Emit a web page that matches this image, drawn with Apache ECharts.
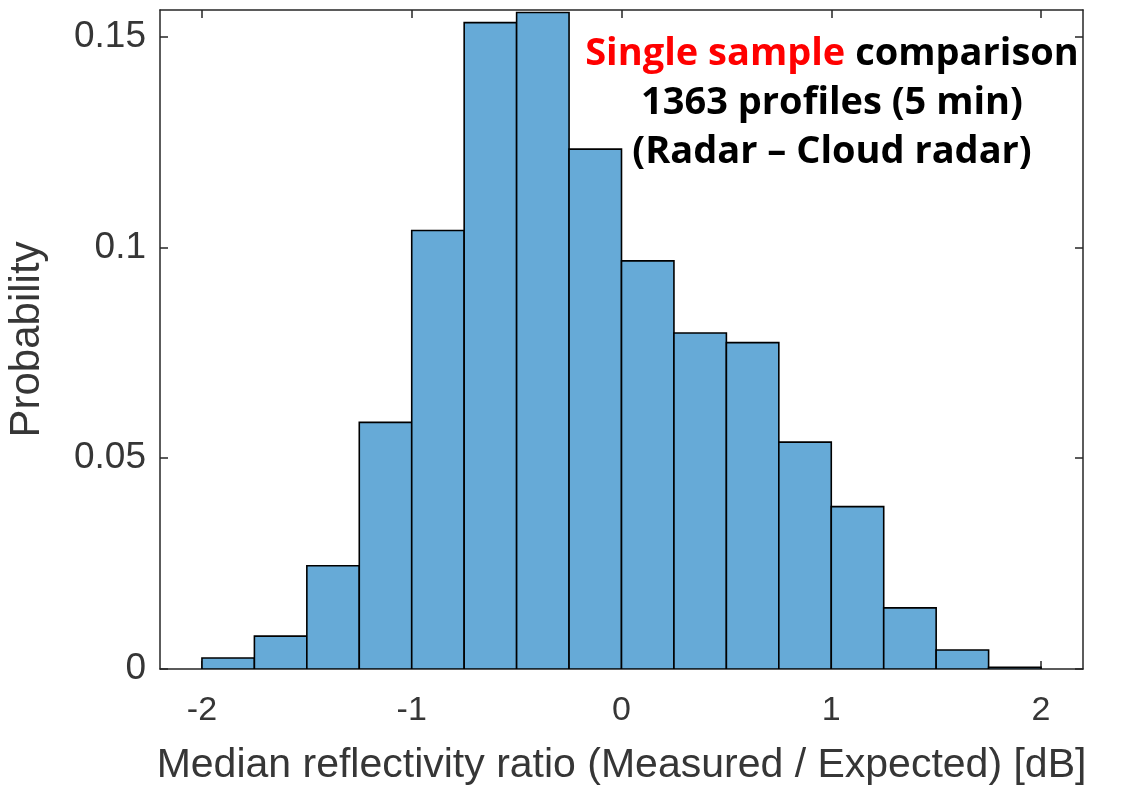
<!DOCTYPE html>
<html>
<head>
<meta charset="utf-8">
<script src="https://cdn.jsdelivr.net/npm/echarts@6/dist/echarts.min.js"></script>
<style>
html,body{margin:0;padding:0;background:#fff;}
#chart{width:1121px;height:785px;}
</style>
</head>
<body>
<div id="chart"></div>
<script>
// Histogram bin edges (dB) and probabilities
const binStarts = [-2, -1.75, -1.5, -1.25, -1, -0.75, -0.5, -0.25, 0, 0.25, 0.5, 0.75, 1, 1.25, 1.5, 1.75];
const binWidth = 0.25;
const probabilities = [0.0026, 0.0078, 0.0245, 0.0585, 0.1040, 0.1533, 0.1557, 0.1233, 0.0968, 0.0797, 0.0774, 0.0538, 0.0385, 0.0145, 0.0045, 0.0004];
const xTicks = [-2, -1, 0, 1, 2];
const yTicks = [0, 0.05, 0.1, 0.15];
const xTitle = 'Median reflectivity ratio (Measured / Expected) [dB]';
const yTitle = 'Probability';
const annotationLines = ['{r|Single sample }{b|comparison}', '{b|1363 profiles (5 min)}', '{b|(Radar \u2013 Cloud radar)}'];

const data = binStarts.map((s, i) => [s, s + binWidth, probabilities[i]]);

const chart = echarts.init(document.getElementById('chart'), null, {renderer: 'canvas'});
const axisColor = '#262626';
const fontFam = 'Liberation Sans, Arial, sans-serif';
const textColor = '#363636';

const richStyles = {
  r: {fill: '#ff0000', fontFamily: 'Open Sans', fontWeight: 'bold', fontSize: 38},
  b: {fill: '#000000', fontFamily: 'Open Sans', fontWeight: 'bold', fontSize: 38}
};

const option = {
  animation: false,
  backgroundColor: '#ffffff',
  grid: {left: 160, right: 38, top: 10, bottom: 116, containLabel: false, outerBoundsMode: 'none'},
  xAxis: [{
    type: 'value', min: -2.2, max: 2.2, position: 'bottom',
    axisLine: {show: true, onZero: false, lineStyle: {color: axisColor, width: 1.5}},
    axisTick: {show: true, inside: true, length: 8, customValues: xTicks, lineStyle: {color: axisColor, width: 1.5}},
    axisLabel: {customValues: xTicks, margin: 25, formatter: v => String(v), fontFamily: fontFam, fontSize: 34, color: textColor},
    splitLine: {show: false},
    name: xTitle, nameLocation: 'middle', nameGap: 76,
    nameTextStyle: {fontFamily: fontFam, fontSize: 41, color: textColor}
  }, {
    type: 'value', min: -2.2, max: 2.2, position: 'top',
    axisLine: {show: true, onZero: false, lineStyle: {color: axisColor, width: 1.5}},
    axisTick: {show: true, inside: true, length: 8, customValues: xTicks, lineStyle: {color: axisColor, width: 1.5}},
    axisLabel: {show: false}, splitLine: {show: false}
  }],
  yAxis: [{
    type: 'value', min: 0, max: 0.1563, position: 'left',
    axisLine: {show: true, onZero: false, lineStyle: {color: axisColor, width: 1.5}},
    axisTick: {show: true, inside: true, length: 8, customValues: yTicks, lineStyle: {color: axisColor, width: 1.5}},
    axisLabel: {customValues: yTicks, margin: 14, formatter: v => String(v), fontFamily: fontFam, fontSize: 37, color: textColor},
    splitLine: {show: false},
    name: yTitle, nameLocation: 'middle', nameGap: 112, nameRotate: 90,
    nameTextStyle: {fontFamily: fontFam, fontSize: 42, color: textColor}
  }, {
    type: 'value', min: 0, max: 0.1563, position: 'right',
    axisLine: {show: true, onZero: false, lineStyle: {color: axisColor, width: 1.5}},
    axisTick: {show: true, inside: true, length: 8, customValues: yTicks, lineStyle: {color: axisColor, width: 1.5}},
    axisLabel: {show: false}, splitLine: {show: false}
  }],
  series: [{
    type: 'custom',
    xAxisIndex: 0, yAxisIndex: 0,
    encode: {x: [0, 1], y: 2},
    data: data,
    clip: true,
    renderItem: function (params, api) {
      const p0 = api.coord([api.value(0), api.value(2)]);
      const p1 = api.coord([api.value(1), 0]);
      return {
        type: 'rect',
        shape: {x: p0[0], y: p0[1], width: p1[0] - p0[0], height: p1[1] - p0[1]},
        style: {fill: '#66aad7', stroke: '#000000', lineWidth: 1.6}
      };
    }
  }],
  graphic: annotationLines.map((t, i) => ({
    type: 'text',
    x: 832, y: 54 + i * 49,
    z: 100,
    style: {
      text: t,
      align: 'center',
      verticalAlign: 'middle',
      rich: richStyles
    }
  }))
};
chart.setOption(option);
</script>
</body>
</html>
